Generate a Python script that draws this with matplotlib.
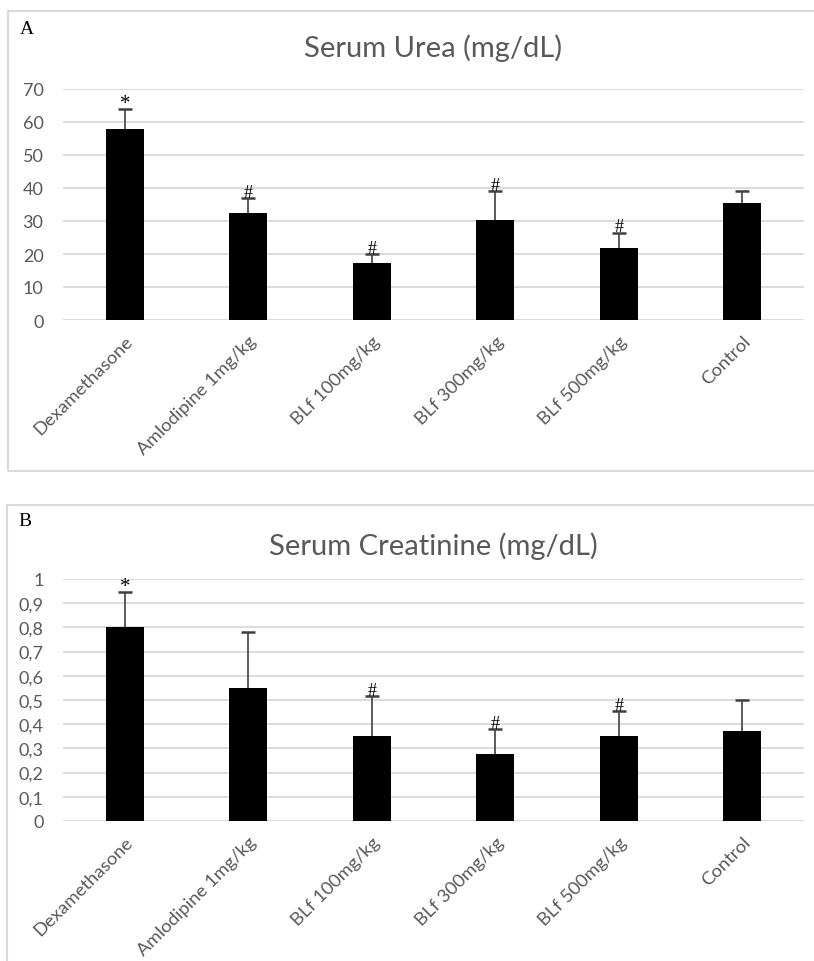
import matplotlib.pyplot as plt
import matplotlib.patches as patches
from matplotlib.ticker import FixedLocator, FuncFormatter

groups = ['Dexamethasone', 'Amlodipine 1mg/kg', 'BLf 100mg/kg', 'BLf 300mg/kg', 'BLf 500mg/kg', 'Control']

urea_mean = [58.0, 32.3, 17.2, 30.2, 21.8, 35.4]
urea_err = [6.0, 4.7, 2.8, 8.8, 4.7, 3.8]
urea_mark = ['*', '#', '#', '#', '#', '']

creat_mean = [0.80, 0.55, 0.35, 0.275, 0.35, 0.37]
creat_err = [0.145, 0.23, 0.165, 0.105, 0.105, 0.13]
creat_mark = ['*', '', '#', '#', '#', '']

plt.rcParams['font.family'] = ['Lato', 'DejaVu Sans']
gray = '#595959'

fig = plt.figure(figsize=(8.14, 9.62), dpi=100)

# light frames round each panel
for (x0, y0, w, h) in [(8 / 814, 1 - 472 / 962, 1.0, 460 / 962), (7 / 814, -0.01, 1.0, 1 - 506 / 962 + 0.01)]:
    fig.patches.append(patches.Rectangle((x0, y0), w, h, transform=fig.transFigure,
                                         fill=False, edgecolor='#d9d9d9', lw=1.5))

fig.text(20 / 814, 1 - 29 / 962, 'A', family='Liberation Serif', fontsize=14, va='center')
fig.text(18 / 814, 1 - 521 / 962, 'B', family='Liberation Serif', fontsize=14, va='center')

ax1 = fig.add_axes([63 / 814, 1 - 321 / 962, 741 / 814, 231 / 962])
ax2 = fig.add_axes([63 / 814, 1 - 822 / 962, 741 / 814, 242 / 962])


def draw(ax, mean, err, marks, title, ymax, step, fmt, title_pad):
    x = list(range(len(groups)))
    ax.bar(x, mean, width=0.31, color='black', zorder=4)
    ax.errorbar(x, mean, yerr=err, fmt='none', ecolor='#404040',
                elinewidth=1.2, capsize=5, capthick=1.8, zorder=3)
    for xi, m, e, s in zip(x, mean, err, marks):
        if s:
            ax.annotate(s, (xi, m + e), xytext=(0, -2 if s == '#' else -3), textcoords='offset points',
                        ha='center', va='bottom', family='Liberation Serif',
                        fontsize=15 if s == '*' else 13, color='black', annotation_clip=False)
    ax.set_xlim(-0.5, len(groups) - 0.5)
    ax.set_ylim(0, ymax)
    ticks = [i * step for i in range(int(round(ymax / step)) + 1)]
    ax.yaxis.set_major_locator(FixedLocator(ticks))
    ax.yaxis.set_major_formatter(FuncFormatter(fmt))
    ax.yaxis.grid(True, color='#d9d9d9', lw=1.3, zorder=0)
    ax.set_axisbelow(True)
    for sp in ax.spines.values():
        sp.set_visible(False)
    ax.tick_params(axis='both', length=0, colors=gray)
    ax.tick_params(axis='y', pad=14, labelsize=13)
    ax.set_xticks(x)
    ax.set_xticklabels(groups, rotation=45, ha='right', va='top', rotation_mode='anchor', fontsize=13.3)
    ax.tick_params(axis='x', pad=9)
    ax.set_title(title, color=gray, fontsize=21, pad=title_pad)


draw(ax1, urea_mean, urea_err, urea_mark, 'Serum Urea (mg/dL)', 70, 10,
     lambda v, p: '%d' % round(v), 24)
draw(ax2, creat_mean, creat_err, creat_mark, 'Serum Creatinine (mg/dL)', 1.0, 0.1,
     lambda v, p: ('%g' % round(v, 1)).replace('.', ','), 18)

fig.savefig('out.png', dpi=100)
